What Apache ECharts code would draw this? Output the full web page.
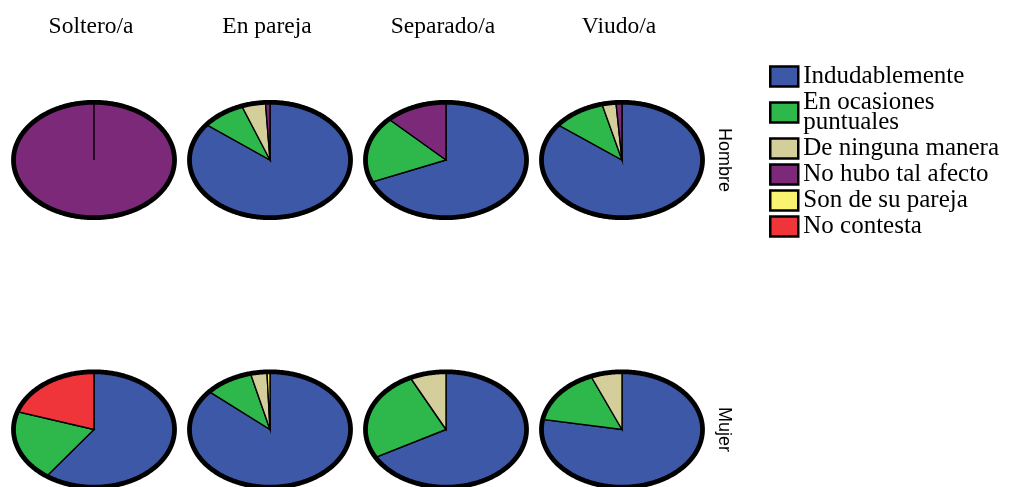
<!DOCTYPE html>
<html>
<head>
<meta charset="utf-8">
<script src="https://cdn.jsdelivr.net/npm/echarts@6/dist/echarts.min.js"></script>
<style>
  html, body { margin: 0; padding: 0; background: #ffffff; }
  #chart { width: 1009px; height: 487px; }
</style>
</head>
<body>
<div id="chart"></div>
<script>
// Paneles: columnas = estado civil, filas = sexo
const estados = ['Soltero/a', 'En pareja', 'Separado/a', 'Viudo/a'];
const sexos = ['Hombre', 'Mujer'];
const respuestas = ['Indudablemente', 'En ocasiones puntuales', 'De ninguna manera',
                    'No hubo tal afecto', 'Son de su pareja', 'No contesta'];

// Porcentajes por panel: Hombre (Soltero/a, En pareja, Separado/a, Viudo/a), después Mujer
const indudablemente  = [0,   85.5, 68.75, 85.4, 60, 86.4, 67.0, 77.8];
const enOcasiones     = [0,    8.8, 18.75, 10.6, 20,  9.7, 25.7, 15.9];
const deNingunaManera = [0,    4.8,  0,     2.8,  0,  3.3,  7.3,  6.3];
const noHuboTalAfecto = [100,  0.9, 12.5,   1.2,  0,  0,    0,    0];
const sonDeSuPareja   = [0,    0,    0,     0,    0,  0.6,  0,    0];
const noContesta      = [0,    0,    0,     0,   20,  0,    0,    0];

const valores = [indudablemente, enOcasiones, deNingunaManera, noHuboTalAfecto, sonDeSuPareja, noContesta];
const colores = ['#3E58A8', '#2EB84B', '#D4CE9A', '#7B2978', '#FAF36F', '#EF343A'];

// Semiejes de cada tarta elíptica (px)
const RX = 80.5, RY = 57.7;

function panelTotal(p) {
  return valores.reduce((s, arr) => s + arr[p], 0);
}

// Puntos de un sector elíptico, en sentido horario desde las 12
function sectorPoints(cx, cy, a0, a1, withCenter) {
  const pts = withCenter ? [[cx, cy]] : [];
  const n = Math.max(2, Math.ceil((a1 - a0) / (Math.PI / 240)));
  for (let i = 0; i <= n; i++) {
    const a = a0 + (a1 - a0) * i / n;
    pts.push([cx + RX * Math.sin(a), cy - RY * Math.cos(a)]);
  }
  return pts;
}

function panelData(k) {
  const data = [];
  sexos.forEach((s, r) => {
    estados.forEach((e, c) => {
      const p = r * estados.length + c;
      data.push([e, s, k === null ? 1 : valores[k][p], p]);
    });
  });
  return data;
}

const series = respuestas.map((name, k) => ({
  name: name,
  type: 'custom',
  coordinateSystem: 'cartesian2d',
  itemStyle: { color: colores[k] },
  encode: { x: 0, y: 1 },
  data: panelData(k),
  renderItem: function (params, api) {
    const p = api.value(3);
    const v = api.value(2);
    if (!(v > 0)) return null;
    const total = panelTotal(p);
    let start = 0;
    for (let j = 0; j < k; j++) start += valores[j][p];
    const a0 = start / total * Math.PI * 2;
    const a1 = (start + v) / total * Math.PI * 2;
    const c = api.coord([api.value(0), api.value(1)]);
    return {
      type: 'polygon',
      shape: { points: sectorPoints(c[0], c[1], a0, a1, true) },
      style: { fill: api.visual('color'), stroke: '#000', lineWidth: 1.4, lineJoin: 'miter' }
    };
  }
}));

// Contorno grueso de cada tarta
series.push({
  name: 'contorno',
  type: 'custom',
  coordinateSystem: 'cartesian2d',
  silent: true,
  z: 5,
  encode: { x: 0, y: 1 },
  data: panelData(null),
  renderItem: function (params, api) {
    const c = api.coord([api.value(0), api.value(1)]);
    return {
      type: 'polygon',
      shape: { points: sectorPoints(c[0], c[1], 0, Math.PI * 2, false) },
      style: { fill: 'none', stroke: '#000', lineWidth: 4.8 }
    };
  }
});

const chart = echarts.init(document.getElementById('chart'), null, { renderer: 'canvas' });
chart.setOption({
  animation: false,
  backgroundColor: '#ffffff',
  grid: { left: 6, top: 25.25, width: 704, height: 539, containLabel: false, outerBoundsMode: 'none' },
  xAxis: {
    type: 'category',
    data: estados,
    position: 'top',
    axisLine: { show: false },
    axisTick: { show: false },
    splitLine: { show: false },
    axisLabel: {
      interval: 0, margin: -1.5, verticalAlign: 'middle', padding: [0, 6, 0, 0],
      fontFamily: 'Liberation Serif', fontSize: 23.5, color: '#000'
    }
  },
  yAxis: {
    type: 'category',
    data: sexos,
    inverse: true,
    position: 'right',
    axisLine: { show: false },
    axisTick: { show: false },
    splitLine: { show: false },
    axisLabel: {
      interval: 0, rotate: -90, margin: 14, align: 'center', verticalAlign: 'middle',
      fontFamily: 'Liberation Sans', fontSize: 18, color: '#000'
    }
  },
  legend: {
    orient: 'vertical',
    left: 769,
    top: 64,
    padding: 0,
    icon: 'rect',
    itemWidth: 28,
    itemHeight: 20,
    itemGap: 1,
    data: respuestas,
    formatter: function (name) {
      return name === 'En ocasiones puntuales' ? 'En ocasiones\npuntuales' : name;
    },
    itemStyle: { borderColor: '#000', borderWidth: 2.5 },
    textStyle: { fontFamily: 'Liberation Serif', fontSize: 25, lineHeight: 20, color: '#000' }
  },
  series: series
});
</script>
</body>
</html>
